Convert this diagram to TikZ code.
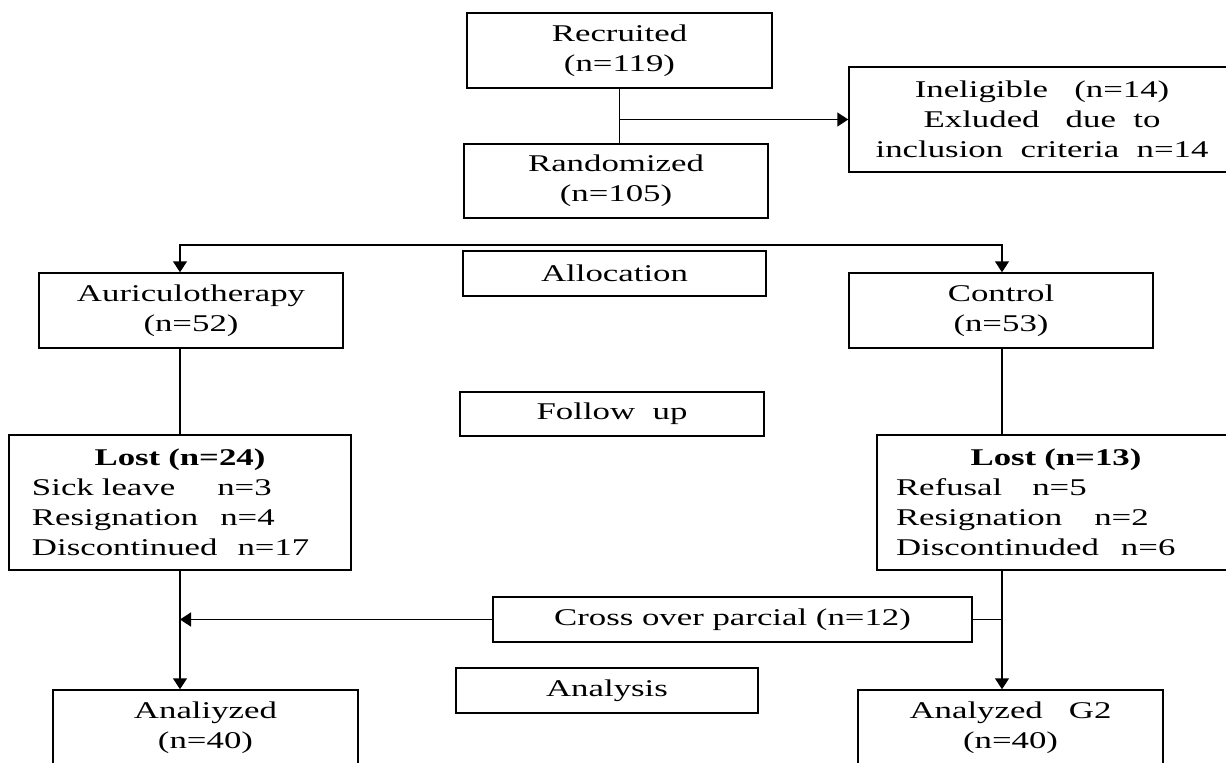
\documentclass[tikz,border=0pt]{standalone}
\usepackage{fontspec}
\setmainfont{Liberation Serif}[FakeStretch=1.45]
\usetikzlibrary{arrows.meta}

\begin{document}
\begin{tikzpicture}[x=0.5pt,y=-0.5pt,line width=0.75pt,>={Triangle[length=5.5pt,width=7pt]}]
\tikzset{box/.style={ %
		draw,
		inner sep=0pt,
		minimum height=37.5pt,
		align=center,
		font=\fontsize{12}{15}\selectfont
	},
	lostbox/.style={box,
		minimum height=67.5pt,
		text width=#1,
		align=left
	}
}
\useasboundingbox (0,0) rectangle (1226,762);
% enrolment
\node[box,minimum width=152.5pt] (recruited) at (619.5,50.5) {Recruited\\(n=119)};
\node[box,minimum width=152pt,minimum height=37pt] (randomized) at (616,181) {Randomized\\(n=105)};
\node[box,minimum width=193pt,minimum height=52.5pt] (ineligible) at (1042,119.5)
	{Ineligible~~~(n=14)\\Exluded~~~due~~to\\inclusion~~criteria~~n=14};
% stage labels
\node[box,minimum width=151.5pt,minimum height=22.5pt] (allocation) at (614.5,273.5) {Allocation};
\node[box,minimum width=152pt,minimum height=22pt] (followup) at (612,414) {Follow~~up};
\node[box,minimum width=151pt,minimum height=22.5pt] (analysis) at (607,690.5) {Analysis};
% groups
\node[box,minimum width=152pt] (auriculo) at (191,310.5) {Auriculotherapy\\(n=52)};
\node[box,minimum width=152pt] (control) at (1001,310.5) {Control\\(n=53)};
\node[lostbox=148pt,inner xsep=11.5pt] (lostA) at (180,502.5)
	{\hspace*{\fill}\textbf{Lost (n=24)}\hspace*{\fill}\mbox{}\\
	Sick leave\hspace{21pt}n=3\\
	Resignation\hspace{11pt}n=4\\
	Discontinued\hspace{10pt}n=17};
\node[lostbox=160pt,inner xsep=9.5pt] (lostC) at (1056,502.5)
	{\hspace*{\fill}\textbf{Lost (n=13)}\hspace*{\fill}\mbox{}\\
	Refusal\hspace{15pt}n=5\\
	Resignation\hspace{16pt}n=2\\
	Discontinuded\hspace{11pt}n=6};
\node[box,minimum width=239.5pt,minimum height=22.5pt] (cross) at (732.5,619.5) {Cross over parcial (n=12)};
\node[box,minimum width=152.5pt] (analyzedA) at (205.5,727.5) {Analiyzed\\(n=40)};
\node[box,minimum width=152.5pt] (analyzedC) at (1010.5,727.5) {Analyzed~~~G2\\(n=40)};

\coordinate (splitL) at (180,245);
\coordinate (splitR) at (1002,245);

\draw (recruited.south) -- (recruited.south |- randomized.north);
\draw[->] (recruited.south |- ineligible.west) -- (ineligible.west);
\draw[<->] (splitL |- auriculo.north) -- (splitL) -- (splitR) -- (splitR |- control.north);
\draw (lostA.north |- auriculo.south) -- (lostA.north);
\draw (splitR |- control.south) -- (splitR |- lostC.north);
\draw[->] (lostA.south) -- (lostA.south |- analyzedA.north);
\draw[->] (splitR |- lostC.south) -- (splitR |- analyzedC.north);
\draw (cross.east) -- (splitR |- cross.east);
\draw[->] (cross.west) -- (lostA.south |- cross.west);
\end{tikzpicture}
\end{document}
